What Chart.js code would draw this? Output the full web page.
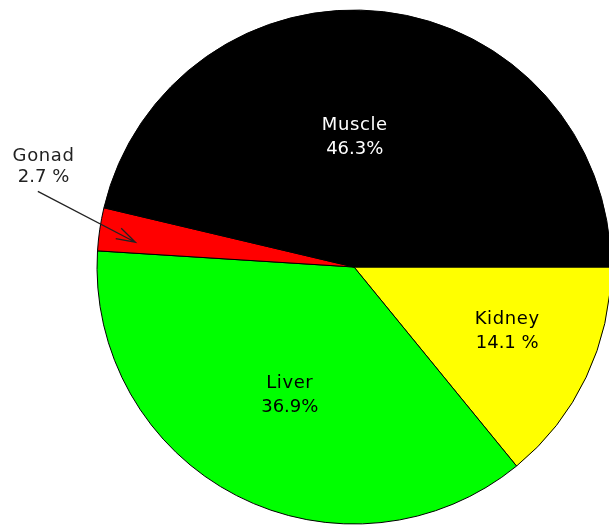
<!DOCTYPE html>
<html>
<head>
<meta charset="utf-8">
<script src="https://cdn.jsdelivr.net/npm/chart.js@4/dist/chart.umd.min.js"></script>
<style>
  html, body { margin: 0; padding: 0; background: #ffffff; overflow: hidden; width: 609px; height: 527px; }
  #wrap { position: absolute; left: 0; top: 0; width: 708px; height: 534px; }
</style>
</head>
<body>
<div id="wrap"><canvas id="c" width="708" height="534"></canvas></div>
<script>
// Data (drawn clockwise from 3 o'clock)
const categories = ["Kidney", "Liver", "Gonad", "Muscle"];
const percentValues = [14.1, 36.9, 2.7, 46.3];
const valueLabels = ["14.1 %", "36.9%", "2.7 %", "46.3%"];
const sliceColors = ["#ffff00", "#00ff00", "#ff0000", "#000000"];

// label placement: fraction along slice angle, fraction of radius
const labelPlacement = {
  Kidney: { t: 0.447, r: 0.646, color: "#000000" },
  Liver:  { t: 0.496, r: 0.557, color: "#000000" },
  Muscle: { t: 0.462, r: 0.506, color: "#ffffff" }
};
const FONT = "18px 'DejaVu Sans', Arial, sans-serif";

const labelPlugin = {
  id: "sliceLabels",
  afterDatasetsDraw(chart) {
    const ctx = chart.ctx;
    const meta = chart.getDatasetMeta(0);
    ctx.save();
    ctx.font = FONT;
    ctx.textAlign = "center";
    ctx.textBaseline = "middle";
    meta.data.forEach((arc, i) => {
      const name = categories[i];
      const p = arc.getProps(["x", "y", "startAngle", "endAngle", "outerRadius"], true);
      const place = labelPlacement[name];
      if (place) {
        const a = p.startAngle + (p.endAngle - p.startAngle) * place.t;
        const cx = p.x + Math.cos(a) * p.outerRadius * place.r;
        const cy = p.y + Math.sin(a) * p.outerRadius * place.r;
        ctx.fillStyle = place.color;
        ctx.letterSpacing = "0.6px";
        ctx.fillText(name, cx, cy - 12);
        ctx.letterSpacing = "0px";
        ctx.fillText(valueLabels[i], cx, cy + 12);
      } else {
        // callout (Gonad)
        const mid = (p.startAngle + p.endAngle) / 2;
        const deg = Math.PI / 180;
        const ta = mid + 9.5 * deg, tr = 1.27 * p.outerRadius;
        const tx = p.x + Math.cos(ta) * tr, ty = p.y + Math.sin(ta) * tr;
        ctx.fillStyle = "#222222";
        ctx.letterSpacing = "0.6px";
        ctx.fillText(name, tx, ty - 10);
        ctx.letterSpacing = "0px";
        ctx.fillText(valueLabels[i], tx, ty + 11);
        const sa = mid + 5 * deg, sr = 1.265 * p.outerRadius;
        const ea = mid - 2 * deg, er = 0.856 * p.outerRadius;
        const x1 = p.x + Math.cos(sa) * sr, y1 = p.y + Math.sin(sa) * sr;
        const x2 = p.x + Math.cos(ea) * er, y2 = p.y + Math.sin(ea) * er;
        ctx.strokeStyle = "#222222";
        ctx.lineWidth = 1.3;
        ctx.beginPath();
        ctx.moveTo(x1, y1);
        ctx.lineTo(x2, y2);
        const ang = Math.atan2(y2 - y1, x2 - x1);
        const hl = 20, hw = 0.3;
        ctx.moveTo(x2 - Math.cos(ang - hw) * hl, y2 - Math.sin(ang - hw) * hl);
        ctx.lineTo(x2, y2);
        ctx.lineTo(x2 - Math.cos(ang + hw) * hl, y2 - Math.sin(ang + hw) * hl);
        ctx.stroke();
      }
    });
    ctx.restore();
  }
};

new Chart(document.getElementById("c"), {
  type: "pie",
  data: {
    labels: categories,
    datasets: [{
      data: percentValues,
      backgroundColor: sliceColors,
      borderColor: "#000000",
      borderWidth: 1
    }]
  },
  options: {
    responsive: false,
    animation: false,
    devicePixelRatio: 1,
    rotation: 90,
    radius: 257,
    layout: { padding: 0 },
    plugins: {
      legend: { display: false },
      tooltip: { enabled: false }
    }
  },
  plugins: [labelPlugin]
});
</script>
</body>
</html>
